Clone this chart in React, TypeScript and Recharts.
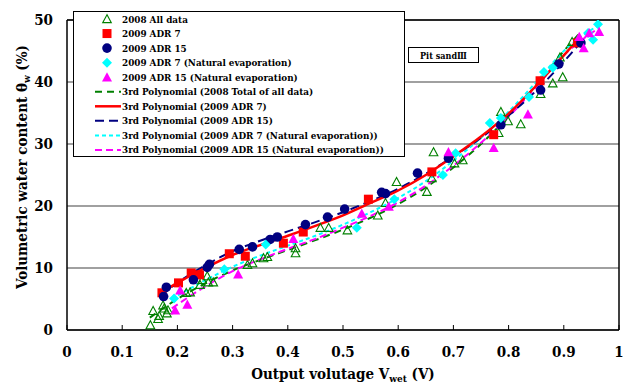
import React from 'react';
import { ComposedChart, Scatter, Line, XAxis, YAxis, CartesianGrid, ReferenceLine } from 'recharts';

const FONT = '"DejaVu Serif Condensed", "DejaVu Serif", "Noto Sans CJK JP", serif';

// ---- data (output voltage V, volumetric water content %) ----
const all2008: [number, number][] = [
  [0.151, 0.8], [0.156, 3.1], [0.165, 1.8], [0.167, 2.3], [0.174, 4.0], [0.176, 3.5], [0.181, 2.7], [0.183, 3.2],
  [0.216, 6.0], [0.223, 6.1], [0.241, 7.3], [0.245, 8.1], [0.254, 8.7], [0.256, 7.7], [0.265, 7.7],
  [0.327, 10.5], [0.336, 10.8], [0.356, 11.6], [0.363, 11.8], [0.414, 13.2], [0.414, 12.4],
  [0.459, 16.5], [0.474, 16.5], [0.508, 16.1], [0.563, 18.5], [0.577, 20.5], [0.597, 23.9],
  [0.652, 22.3], [0.661, 24.5], [0.664, 28.7], [0.702, 26.9], [0.717, 27.4],
  [0.782, 31.8], [0.786, 35.2], [0.799, 33.7], [0.822, 33.2], [0.858, 38.1], [0.880, 39.8],
  [0.893, 44.0], [0.898, 40.8], [0.915, 46.5],
];
const adr7: [number, number][] = [
  [0.172, 6.0], [0.202, 7.6], [0.225, 9.2], [0.240, 8.9], [0.294, 12.3], [0.323, 11.9],
  [0.392, 14.0], [0.428, 15.8], [0.546, 21.1], [0.661, 25.5], [0.773, 31.5], [0.857, 40.2], [0.925, 46.3],
];
const adr15: [number, number][] = [
  [0.175, 5.4], [0.180, 6.9], [0.229, 8.1], [0.254, 10.1], [0.258, 10.6], [0.312, 13.0], [0.336, 13.4],
  [0.368, 14.6], [0.381, 15.0], [0.432, 17.0], [0.472, 18.2], [0.503, 19.5], [0.570, 22.2], [0.577, 22.0],
  [0.635, 25.3], [0.691, 27.7], [0.786, 33.1], [0.858, 38.7], [0.891, 42.9], [0.931, 46.3],
];
const adr7Nat: [number, number][] = [
  [0.194, 5.1], [0.285, 9.8], [0.360, 13.8], [0.525, 16.5], [0.593, 21.1], [0.681, 25.0], [0.704, 28.5],
  [0.766, 33.4], [0.786, 34.2], [0.837, 37.6], [0.864, 41.6], [0.880, 42.3], [0.944, 47.9], [0.953, 46.8], [0.962, 49.3],
];
const adr15Nat: [number, number][] = [
  [0.196, 3.2], [0.218, 4.1], [0.205, 6.4], [0.310, 9.0], [0.410, 14.7], [0.534, 18.8], [0.583, 19.9],
  [0.691, 28.7], [0.773, 29.4], [0.835, 34.8], [0.928, 47.3], [0.936, 45.5], [0.946, 47.9], [0.964, 48.1],
];

// ---- fitted curves ----
const fit2008: [number, number][] = [
  [0.15, 2.0], [0.2, 5.0], [0.25, 7.5], [0.3, 9.6], [0.35, 11.3], [0.4, 12.9], [0.45, 14.5], [0.5, 16.2],
  [0.55, 18.1], [0.6, 20.3], [0.65, 23.0], [0.7, 26.2], [0.75, 30.0], [0.8, 34.5], [0.85, 39.5], [0.9, 45.0], [0.93, 48.0],
];
const fitAdr7: [number, number][] = [
  [0.17, 6.0], [0.2, 7.6], [0.25, 10.0], [0.3, 12.1], [0.35, 13.7], [0.4, 15.2], [0.45, 16.8], [0.5, 18.5],
  [0.55, 20.5], [0.6, 22.5], [0.65, 25.0], [0.7, 28.0], [0.75, 31.2], [0.8, 34.9], [0.85, 39.4], [0.9, 44.3], [0.93, 47.3],
];
const fitAdr15: [number, number][] = [
  [0.17, 5.5], [0.2, 7.6], [0.25, 10.4], [0.3, 12.7], [0.35, 14.4], [0.4, 15.9], [0.45, 17.4], [0.5, 19.0],
  [0.55, 20.8], [0.6, 22.8], [0.65, 25.2], [0.7, 28.0], [0.75, 31.0], [0.8, 34.6], [0.85, 38.6], [0.9, 43.3], [0.93, 46.3],
];
const fitAdr7Nat: [number, number][] = [
  [0.19, 5.0], [0.25, 8.0], [0.3, 10.2], [0.35, 12.0], [0.4, 13.6], [0.45, 15.2], [0.5, 17.0], [0.55, 19.0],
  [0.6, 21.3], [0.65, 24.0], [0.7, 27.3], [0.75, 31.0], [0.8, 35.2], [0.85, 40.0], [0.9, 45.0], [0.96, 49.0],
];
const fitAdr15Nat: [number, number][] = [
  [0.19, 3.5], [0.25, 7.0], [0.3, 9.5], [0.35, 11.4], [0.4, 13.1], [0.45, 14.7], [0.5, 16.5], [0.55, 18.4],
  [0.6, 20.6], [0.65, 23.3], [0.7, 26.5], [0.75, 30.2], [0.8, 34.4], [0.85, 39.2], [0.9, 44.3], [0.96, 48.5],
];

const xTicks = [0, 0.1, 0.2, 0.3, 0.4, 0.5, 0.6, 0.7, 0.8, 0.9, 1];
const yTicks = [0, 10, 20, 30, 40, 50];

const legendItems = [
  { label: '2008 All data', kind: 'htri', color: '#008000' },
  { label: '2009 ADR 7', kind: 'square', color: '#ff0000' },
  { label: '2009 ADR 15', kind: 'circle', color: '#000080' },
  { label: '2009 ADR 7 (Natural evaporation)', kind: 'diamond', color: '#00ffff' },
  { label: '2009 ADR 15 (Natural evaporation)', kind: 'ftri', color: '#ff00ff' },
  { label: '3rd Polynomial (2008 Total of all data)', kind: 'line', color: '#008000', dash: '7 5', w: 2 },
  { label: '3rd Polynomial (2009 ADR 7)', kind: 'line', color: '#ff0000', dash: undefined, w: 2.5 },
  { label: '3rd Polynomial (2009 ADR 15)', kind: 'line', color: '#000080', dash: '9 5', w: 2 },
  { label: '3rd Polynomial (2009 ADR 7 (Natural evaporation))', kind: 'line', color: '#00ffff', dash: '4 3', w: 2 },
  { label: '3rd Polynomial (2009 ADR 15 (Natural evaporation))', kind: 'line', color: '#ff00ff', dash: '7 4', w: 2 },
];

const toPts = (arr: [number, number][]) => arr.map(([x, y]) => ({ x, y }));

const Marker = ({ kind, color, cx, cy }: { kind: string; color: string; cx: number; cy: number }) => {
  if (kind === 'htri') {
    const s = 4.3;
    return <polygon points={`${cx},${cy - s} ${cx - s},${cy + s * 0.85} ${cx + s},${cy + s * 0.85}`} fill="none" stroke={color} strokeWidth={1.1} />;
  }
  if (kind === 'ftri') {
    const s = 5;
    return <polygon points={`${cx},${cy - s} ${cx - s},${cy + s * 0.85} ${cx + s},${cy + s * 0.85}`} fill={color} />;
  }
  if (kind === 'square') return <rect x={cx - 4.5} y={cy - 4.5} width={9} height={9} fill={color} />;
  if (kind === 'circle') return <circle cx={cx} cy={cy} r={4.8} fill={color} />;
  if (kind === 'diamond') {
    const s = 5;
    return <polygon points={`${cx},${cy - s} ${cx + s},${cy} ${cx},${cy + s} ${cx - s},${cy}`} fill={color} />;
  }
  return null;
};

const shapeOf = (kind: string, color: string) => (p: any) =>
  p.cx == null ? <g /> : <Marker kind={kind} color={color} cx={p.cx} cy={p.cy} />;

const XTick = (p: any) => {
  const { x, y, payload } = p;
  return (
    <g>
      <line x1={x} x2={x} y1={y} y2={y - 5} stroke="#000" strokeWidth={1} />
      <text x={x} y={y} dy={27} textAnchor="middle" fontFamily={FONT} fontWeight="bold" fontSize={15} fill="#000">
        {String(payload.value)}
      </text>
    </g>
  );
};

const YLabel = (p: any) => {
  const vb = p.viewBox || {};
  const cx = vb.x + 22;
  const cy = vb.y + vb.height / 2 - 8;
  return (
    <text x={cx} y={cy} transform={`rotate(-90, ${cx}, ${cy})`} textAnchor="middle" dominantBaseline="central"
      fontFamily={FONT} fontWeight="bold" fontSize={15} fill="#000">
      Volumetric water content θ<tspan fontSize={10} dy={4}>w</tspan><tspan dy={-4}> (%)</tspan>
    </text>
  );
};

const XLabel = (p: any) => {
  const vb = p.viewBox || {};
  const cx = vb.x + vb.width / 2;
  return (
    <text x={cx} y={vb.y + 49} textAnchor="middle" fontFamily={FONT} fontWeight="bold" fontSize={15} fill="#000">
      Output volutage V<tspan fontSize={10} dy={3}>wet</tspan><tspan dy={-3}> (V)</tspan>
    </text>
  );
};

const Overlay = () => {
  const top = 19;
  const step = 14.55;
  return (
    <svg width={627} height={383} style={{ position: 'absolute', left: 0, top: 0, pointerEvents: 'none' }}>
      <rect x={73.5} y={11.5} width={331} height={145} fill="#fff" stroke="#000" strokeWidth={1} />
      {legendItems.map((it, i) => {
        const cy = top + i * step;
        return (
          <g key={i}>
            {it.kind === 'line' ? (
              <line x1={95} x2={121} y1={cy} y2={cy} stroke={it.color} strokeWidth={it.w} strokeDasharray={it.dash} />
            ) : (
              <Marker kind={it.kind} color={it.color} cx={107} cy={cy} />
            )}
            <text x={122} y={cy} dominantBaseline="central" fontFamily={FONT} fontWeight="bold" fontSize={9.8} fill="#000">
              {it.label}
            </text>
          </g>
        );
      })}
      <rect x={408.5} y={47.5} width={70} height={15} fill="#fff" stroke="#000" strokeWidth={1} />
      <text x={443.5} y={55.5} textAnchor="middle" dominantBaseline="central" fontFamily={FONT} fontWeight="bold" fontSize={9} fill="#000">
        Pit sandⅢ
      </text>
    </svg>
  );
};

export default function App() {
  return (
    <div style={{ position: 'absolute', left: 0, top: 0, width: 627, height: 383, background: '#fff' }}>
      <ComposedChart width={627} height={383} margin={{ top: 20, right: 8, bottom: 0, left: 0 }}>
        <CartesianGrid vertical={false} stroke="#808080" strokeWidth={1.5} />
        <XAxis dataKey="x" type="number" domain={[0, 1]} ticks={xTicks} height={53} tickSize={0} tickMargin={0}
          tick={<XTick />} axisLine={{ stroke: '#000', strokeWidth: 1.5 }} tickLine={false} allowDataOverflow
          label={<XLabel />} />
        <YAxis dataKey="y" type="number" domain={[0, 50]} ticks={yTicks} width={67} tickSize={0} tickMargin={14}
          tickLine={false} axisLine={{ stroke: '#000', strokeWidth: 1.5 }} allowDataOverflow
          tick={{ fontFamily: FONT, fontWeight: 'bold', fontSize: 15, fill: '#000' }} label={<YLabel />} />
        <ReferenceLine y={50} stroke="#000" strokeWidth={1.5} />
        <ReferenceLine x={1} stroke="#000" strokeWidth={1.5} />
        <Scatter data={toPts(all2008)} shape={shapeOf('htri', '#008000')} isAnimationActive={false} />
        <Scatter data={toPts(adr7)} shape={shapeOf('square', '#ff0000')} isAnimationActive={false} />
        <Scatter data={toPts(adr15)} shape={shapeOf('circle', '#000080')} isAnimationActive={false} />
        <Scatter data={toPts(adr7Nat)} shape={shapeOf('diamond', '#00ffff')} isAnimationActive={false} />
        <Scatter data={toPts(adr15Nat)} shape={shapeOf('ftri', '#ff00ff')} isAnimationActive={false} />
        <Line data={toPts(fit2008)} dataKey="y" type="monotone" stroke="#008000" strokeWidth={2} strokeDasharray="7 5" dot={false} isAnimationActive={false} />
        <Line data={toPts(fitAdr7Nat)} dataKey="y" type="monotone" stroke="#00ffff" strokeWidth={2} strokeDasharray="4 3" dot={false} isAnimationActive={false} />
        <Line data={toPts(fitAdr15Nat)} dataKey="y" type="monotone" stroke="#ff00ff" strokeWidth={2} strokeDasharray="7 4" dot={false} isAnimationActive={false} />
        <Line data={toPts(fitAdr15)} dataKey="y" type="monotone" stroke="#000080" strokeWidth={2} strokeDasharray="9 5" dot={false} isAnimationActive={false} />
        <Line data={toPts(fitAdr7)} dataKey="y" type="monotone" stroke="#ff0000" strokeWidth={2.5} dot={false} isAnimationActive={false} />
      </ComposedChart>
      <Overlay />
    </div>
  );
}
